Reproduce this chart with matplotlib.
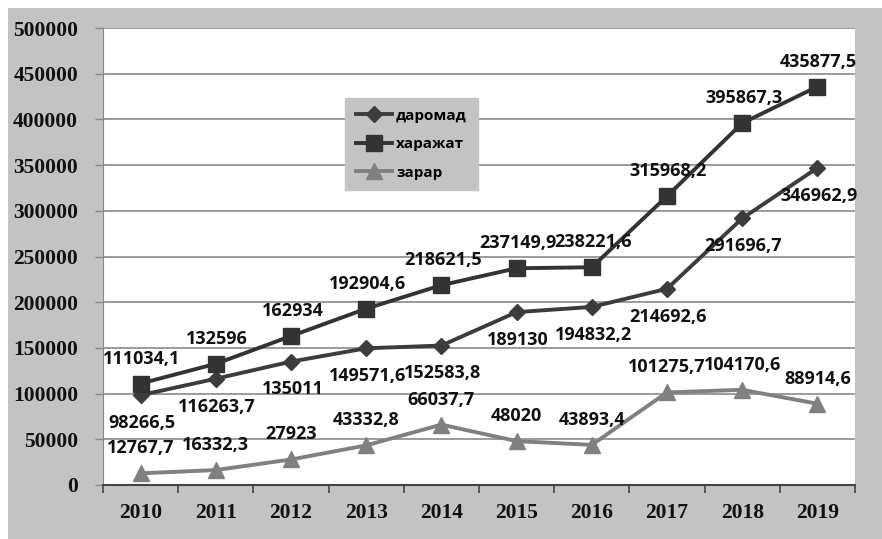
import numpy as np
import matplotlib
matplotlib.use('Agg')
import matplotlib.pyplot as plt
from matplotlib.patches import Rectangle

# Маълумотлар
yillar = ['2010', '2011', '2012', '2013', '2014', '2015', '2016', '2017', '2018', '2019']
daromad = [98266.5, 116263.7, 135011, 149571.6, 152583.8, 189130, 194832.2, 214692.6, 291696.7, 346962.9]
xarajat = [111034.1, 132596, 162934, 192904.6, 218621.5, 237149.9, 238221.6, 315968.2, 395867.3, 435877.5]
zarar = [12767.7, 16332.3, 27923, 43332.8, 66037.7, 48020, 43893.4, 101275.7, 104170.6, 88914.6]

def fmt(v):
    s = ('%.1f' % v).rstrip('0').rstrip('.')
    return s.replace('.', ',')

fig = plt.figure(figsize=(8.82, 5.39), dpi=100, facecolor='white')
fig.patches.append(Rectangle((8/882, 0), 1, 1 - 8/539, transform=fig.transFigure,
                             facecolor='#c3c3c3', edgecolor='none', zorder=-10))
ax = fig.add_axes([103/882, 1 - 485/539, 752/882, 457/539])
ax.set_facecolor('white')

x = np.arange(len(yillar))
ax.plot(x, daromad, color='#3c3c3c', lw=2.8, marker='D', ms=8, label='даромад', zorder=4)
ax.plot(x, xarajat, color='#333333', lw=2.8, marker='s', ms=11, label='харажат', zorder=4)
ax.plot(x, zarar, color='#808080', lw=2.8, marker='^', ms=11, label='зарар', zorder=3)

lab = dict(fontsize=13, fontweight='bold', family='Open Sans', color='#111111',
           ha='center', va='center', textcoords='offset points', zorder=6)
for i in x:
    ax.annotate(fmt(xarajat[i]), (i, xarajat[i]), xytext=(1, 18), **lab)
    ax.annotate(fmt(daromad[i]), (i, daromad[i]), xytext=(1, -20), **lab)
    ax.annotate(fmt(zarar[i]), (i, zarar[i]), xytext=(0, 18), **lab)

ax.set_xlim(-0.5, len(yillar) - 0.5)
ax.set_ylim(0, 500000)
ax.set_yticks(np.arange(0, 500001, 50000))
ax.set_yticklabels([str(v) for v in range(0, 500001, 50000)])
ax.set_xticks(x)
ax.set_xticklabels(yillar)
ax.set_xticks(np.arange(-0.5, len(yillar)), minor=True)
ax.tick_params(axis='x', which='major', length=0, pad=13)
ax.tick_params(axis='x', which='minor', length=6, width=1.2, color='#444444', direction='out')
ax.tick_params(axis='y', length=6, width=1, color='#888888', pad=12)
for t in ax.get_xticklabels() + ax.get_yticklabels():
    t.set_family('Liberation Serif')
    t.set_fontweight('bold')
    t.set_fontsize(15.5)
    t.set_color('#111111')

ax.grid(axis='y', color='#8a8a8a', lw=1.2, zorder=0)
ax.set_axisbelow(True)
for s in ['top', 'right']:
    ax.spines[s].set_visible(False)
ax.spines['left'].set_color('#888888')
ax.spines['bottom'].set_color('#444444')
ax.spines['bottom'].set_linewidth(1.5)

leg = ax.legend(loc='upper left', bbox_to_anchor=((345 - 103) / 752, (485 - 98) / 457),
                prop={'family': 'Open Sans', 'weight': 'bold', 'size': 11},
                frameon=True, fancybox=False, handlelength=2.4, labelspacing=0.95,
                borderpad=0.7, handletextpad=0.25, borderaxespad=0)
leg.get_frame().set_facecolor('#c3c3c3')
leg.get_frame().set_edgecolor('#c3c3c3')
leg.get_frame().set_alpha(1)

fig.savefig('out.png', dpi=100, facecolor=fig.get_facecolor())
